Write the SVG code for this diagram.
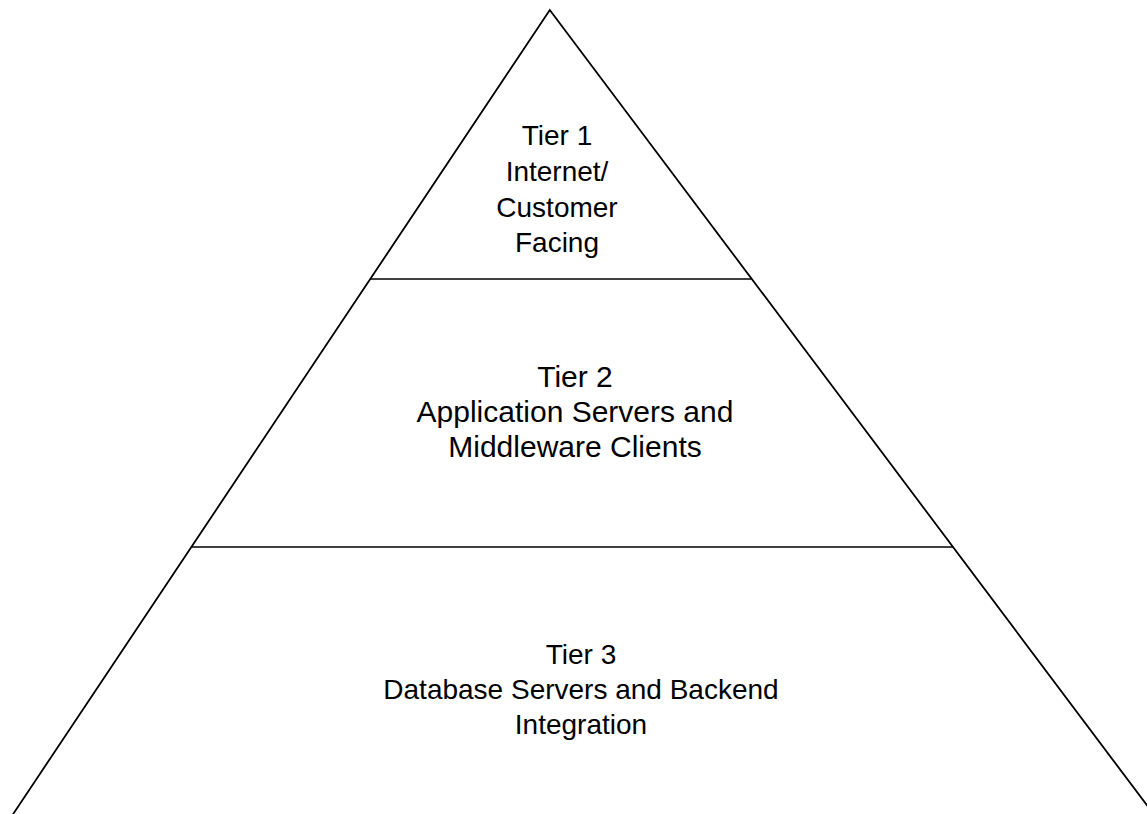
<svg xmlns="http://www.w3.org/2000/svg" width="1147" height="814" viewBox="0 0 1147 814">
<style>
.edge{stroke:#000;stroke-width:1.8;fill:none;stroke-linecap:round}
.div{stroke:#000;stroke-width:1.5;fill:none}
.lbl{font-family:"Liberation Sans",Arial,sans-serif;font-size:28px;fill:#000;text-anchor:middle}
.big{font-size:30px}
</style>
<rect width="1147" height="814" fill="#fff"/>
<g id="pyramid">
<polyline class="edge" points="2.5,830 549.8,10 1165.5,830"/>
</g>
<g id="connectors">
<line class="div" x1="370.5" y1="279" x2="751.5" y2="279"/>
<line class="div" x1="191.5" y1="547" x2="953" y2="547"/>
</g>
<g id="tier1">
<text class="lbl" x="557" y="145">Tier 1</text>
<text class="lbl" x="557" y="180.5">Internet/</text>
<text class="lbl" x="557" y="216.5">Customer</text>
<text class="lbl" x="557" y="252">Facing</text>
</g>
<g id="tier2">
<text class="lbl big" x="575" y="387">Tier 2</text>
<text class="lbl big" x="575" y="422">Application Servers and</text>
<text class="lbl big" x="575" y="457">Middleware Clients</text>
</g>
<g id="tier3">
<text class="lbl" x="581" y="664">Tier 3</text>
<text class="lbl" x="581" y="699">Database Servers and Backend</text>
<text class="lbl" x="581" y="734">Integration</text>
</g>
</svg>
